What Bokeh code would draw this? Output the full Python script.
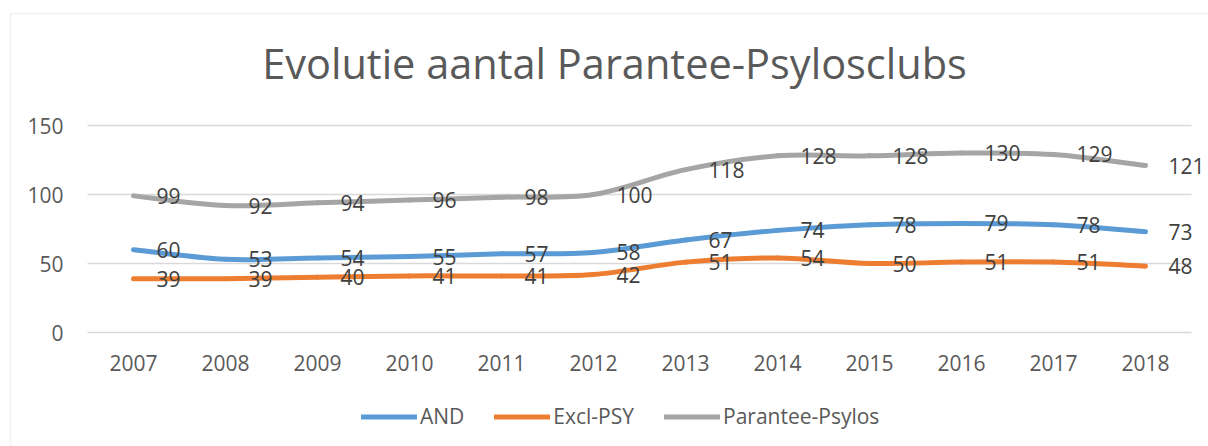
from bokeh.plotting import figure
from bokeh.models import (Range1d, FixedTicker, LabelSet, Label, Legend,
                          LegendItem, ColumnDataSource, BoxAnnotation)
from bokeh.core.properties import value
from bokeh.embed import file_html
from bokeh.resources import INLINE

years = ["2007", "2008", "2009", "2010", "2011", "2012",
         "2013", "2014", "2015", "2016", "2017", "2018"]
and_vals = [60, 53, 54, 55, 57, 58, 67, 74, 78, 79, 78, 73]
excl_vals = [39, 39, 40, 41, 41, 42, 51, 54, 50, 51, 51, 48]
parantee_vals = [99, 92, 94, 96, 98, 100, 118, 128, 128, 130, 129, 121]
series_names = ["AND", "Excl-PSY", "Parantee-Psylos"]
series_colors = ["#5B9BD5", "#ED7D31", "#A5A5A5"]
title_text = "Evolutie aantal Parantee-Psylosclubs"
y_ticks = [0, 50, 100, 150]

FONT = "Open Sans"
W, H = 1208, 446
# plot-area placement in pixels (layout only)
PA_LEFT, PA_RIGHT, PA_TOP, PA_BOTTOM = 87, 1191, 125, 332
n = len(years)
xpx = (PA_RIGHT - PA_LEFT) / n
ypx = (PA_BOTTOM - PA_TOP) / (y_ticks[-1] - y_ticks[0])
x_start = -PA_LEFT / xpx
x_end = n + (W - PA_RIGHT) / xpx
y_end = y_ticks[-1] + PA_TOP / ypx
y_start = y_ticks[0] - (H - PA_BOTTOM) / ypx

p = figure(width=W, height=H, output_backend="svg", toolbar_location=None,
           x_range=Range1d(x_start, x_end), y_range=Range1d(y_start, y_end),
           min_border_left=0, min_border_right=0, min_border_top=0, min_border_bottom=0)
p.outline_line_color = None
p.background_fill_color = "white"
p.border_fill_color = "white"
p.xgrid.grid_line_color = None
p.ygrid.grid_line_color = None

xs = [i + 0.5 for i in range(n)]

# gridlines across the plot area
p.segment(x0=[0] * len(y_ticks), x1=[n] * len(y_ticks), y0=y_ticks, y1=y_ticks,
          line_color="#d9d9d9", line_width=1.5)

p.xaxis.fixed_location = y_ticks[0]
p.yaxis.fixed_location = 0
p.xaxis.ticker = FixedTicker(ticks=xs)
p.xaxis.major_label_overrides = {x: y for x, y in zip(xs, years)}
p.yaxis.ticker = FixedTicker(ticks=y_ticks)
for ax in (p.xaxis[0], p.yaxis[0]):
    ax.axis_line_color = None
    ax.major_tick_line_color = None
    ax.minor_tick_line_color = None
    ax.major_tick_out = 0
    ax.major_tick_in = 0
    ax.minor_tick_out = 0
    ax.major_label_text_font = FONT
    ax.major_label_text_font_size = "21px"
    ax.major_label_text_color = "#595959"
p.yaxis.major_label_standoff = 24
p.xaxis.major_label_standoff = 22


def smooth_segments(vals):
    m = len(vals)
    x0, y0, x1, y1, cx0, cy0, cx1, cy1 = [], [], [], [], [], [], [], []
    for i in range(m - 1):
        ip = max(i - 1, 0)
        inn = min(i + 2, m - 1)
        x0.append(xs[i]); y0.append(vals[i])
        x1.append(xs[i + 1]); y1.append(vals[i + 1])
        cx0.append(xs[i] + (xs[i + 1] - xs[ip]) / 6.0)
        cy0.append(vals[i] + (vals[i + 1] - vals[ip]) / 6.0)
        cx1.append(xs[i + 1] - (xs[inn] - xs[i]) / 6.0)
        cy1.append(vals[i + 1] - (vals[inn] - vals[i]) / 6.0)
    return dict(x0=x0, y0=y0, x1=x1, y1=y1, cx0=cx0, cy0=cy0, cx1=cx1, cy1=cy1)


items = []
for name, vals, color in zip(series_names, [and_vals, excl_vals, parantee_vals], series_colors):
    src = ColumnDataSource(smooth_segments(vals))
    r = p.bezier(x0="x0", y0="y0", x1="x1", y1="y1", cx0="cx0", cy0="cy0",
                 cx1="cx1", cy1="cy1", source=src, line_color=color, line_width=5,
                 line_cap="round")
    items.append(LegendItem(label=name, renderers=[r]))
    lsrc = ColumnDataSource(dict(x=xs, y=vals, t=[str(v) for v in vals]))
    labels = LabelSet(x="x", y="y", text="t", source=lsrc, x_offset=23, y_offset=0,
                      text_align="left", text_baseline="middle",
                      text_font=value(FONT), text_font_size="21px", text_color="#404040")
    p.add_layout(labels)

legend = Legend(items=items, orientation="horizontal", location=(361, 16),
                glyph_width=56, glyph_height=21, label_height=21, label_standoff=3,
                spacing=30, padding=0, margin=0,
                label_text_font=FONT, label_text_font_size="21px",
                label_text_color="#595959",
                border_line_color=None, background_fill_alpha=0)
p.add_layout(legend, "center")

title = Label(x=614, y=H - 62, x_units="screen", y_units="screen", text=title_text,
              text_align="center", text_baseline="alphabetic",
              text_font=FONT, text_font_size="41.5px", text_color="#595959")
p.add_layout(title)

chart_border = BoxAnnotation(left=10, right=W + 20, top=H - 13, bottom=-20,
                             left_units="screen", right_units="screen",
                             top_units="screen", bottom_units="screen",
                             fill_alpha=0, line_color="#d9d9d9", line_width=2)
p.add_layout(chart_border)

open("out.html", "w").write(file_html(p, INLINE))
